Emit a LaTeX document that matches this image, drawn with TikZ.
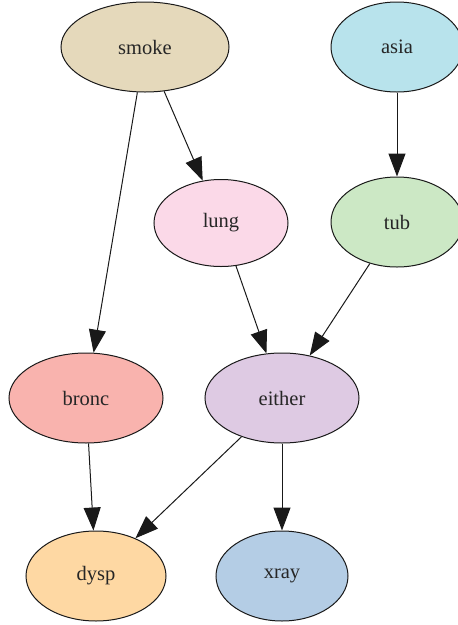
\documentclass[tikz,border=0pt]{standalone}
\usepackage{fontspec}
\setmainfont{Liberation Serif}
\usetikzlibrary{shapes.geometric,arrows.meta}
\definecolor{csmoke}{HTML}{E5D9BB}
\definecolor{casia}{HTML}{B8E3EC}
\definecolor{clung}{HTML}{FBD9E8}
\definecolor{ctub}{HTML}{CCE8C5}
\definecolor{cbronc}{HTML}{F9B3AE}
\definecolor{ceither}{HTML}{DECAE3}
\definecolor{cdysp}{HTML}{FED8A3}
\definecolor{cxray}{HTML}{B4CDE5}
\tikzset{
  bn/.style={ellipse, draw=black!90, line width=1pt, inner sep=0pt,
    font=\fontsize{20.5}{24}\selectfont, text=black!85},
  edge/.style={draw=black!90, line width=1pt,
    -{Triangle[length=23pt,width=17pt]}, shorten >=0pt}
}
\begin{document}
\begin{tikzpicture}[x=1pt,y=-1pt]
\useasboundingbox (0,0) rectangle (458,625);
\node[bn, fill=csmoke, minimum width=168pt, minimum height=90pt] (smoke) at (145,47) {smoke};
\node[bn, fill=casia, minimum width=132pt, minimum height=90pt] (asia) at (397,47) {asia};
\node[bn, fill=clung, minimum width=134pt, minimum height=87pt] (lung) at (221,223) {lung};
\node[bn, fill=ctub, minimum width=132pt, minimum height=90pt] (tub) at (397,222) {tub};
\node[bn, fill=cbronc, minimum width=154pt, minimum height=90pt] (bronc) at (86,398) {bronc};
\node[bn, fill=ceither, minimum width=154pt, minimum height=90pt] (either) at (282,398) {either};
\node[bn, fill=cdysp, minimum width=140pt, minimum height=90pt] (dysp) at (96,576) {dysp};
\node[bn, fill=cxray, minimum width=132pt, minimum height=90pt] (xray) at (282,576) {xray};
\draw[edge] (smoke) -- (lung);
\draw[edge] (smoke) -- (bronc);
\draw[edge] (asia) -- (tub);
\draw[edge] (lung) -- (either);
\draw[edge] (tub) -- (either);
\draw[edge] (bronc) -- (dysp);
\draw[edge] (either) -- (dysp);
\draw[edge] (either) -- (xray);
\end{tikzpicture}
\end{document}
